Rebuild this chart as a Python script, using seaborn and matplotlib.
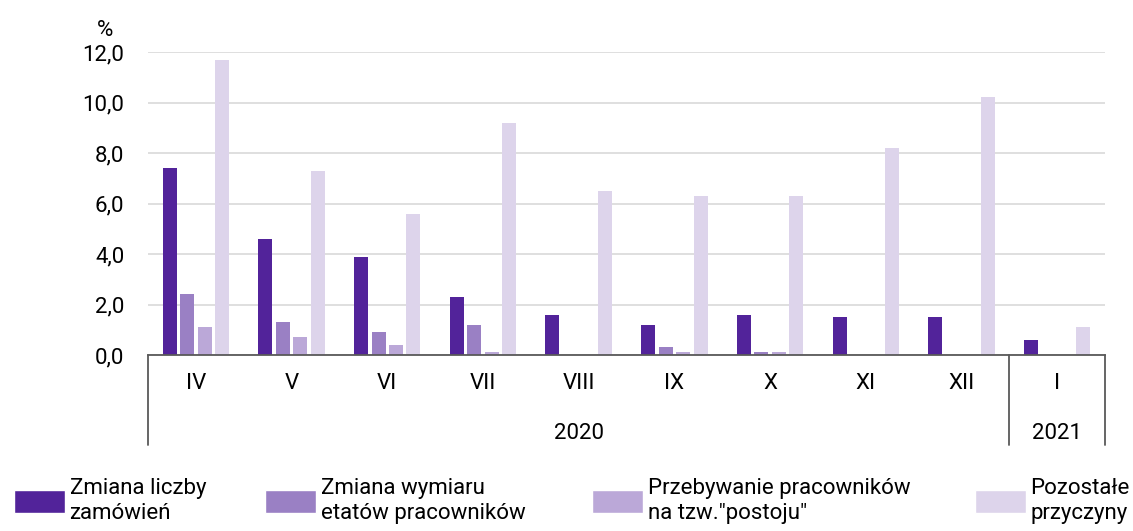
import numpy as np
import pandas as pd
import seaborn as sns
import matplotlib.pyplot as plt
import matplotlib.transforms as mtransforms
from matplotlib.patches import Patch

# Dane (%)
months = ["IV", "V", "VI", "VII", "VIII", "IX", "X", "XI", "XII", "I"]
years = ["2020", "2021"]
series = ["Zmiana liczby\nzamówień", "Zmiana wymiaru\netatów pracowników",
          "Przebywanie pracowników\nna tzw.\"postoju\"", "Pozostałe\nprzyczyny"]
zamowien = [7.4, 4.6, 3.9, 2.3, 1.6, 1.2, 1.6, 1.5, 1.5, 0.6]
wymiar = [2.4, 1.3, 0.9, 1.2, 0.0, 0.3, 0.1, 0.0, 0.0, 0.0]
postoj = [1.1, 0.7, 0.4, 0.1, 0.0, 0.1, 0.1, 0.0, 0.0, 0.0]
pozostale = [11.7, 7.3, 5.6, 9.2, 6.5, 6.3, 6.3, 8.2, 10.2, 1.1]
yticks = [0, 2, 4, 6, 8, 10, 12]
colors = ["#52239a", "#9a80c4", "#bba8d8", "#ddd4eb"]

df = pd.DataFrame({
    "miesiac": months * 4,
    "seria": np.repeat(series, len(months)),
    "wartosc": zamowien + wymiar + postoj + pozostale,
})

sns.set_style("white")
plt.rcParams['font.family'] = ['Roboto', 'DejaVu Sans']
plt.rcParams['text.color'] = 'black'
plt.rcParams['ytick.color'] = 'black'

fs = 16
fig = plt.figure(figsize=(11.33, 5.31), dpi=100)
ax = fig.add_axes([148 / 1133, 1 - 355 / 531, (1105 - 148) / 1133, (355 - 52) / 531])

sns.barplot(data=df, x="miesiac", y="wartosc", hue="seria", order=months,
            hue_order=series, palette=colors, width=0.73, gap=0.2,
            linewidth=0, saturation=1, legend=False, ax=ax)

ax.set_xlim(-0.5, 9.5)
ax.set_ylim(0, 12)
ax.set_yticks(yticks)
ax.set_yticklabels([f"{v:.1f}".replace(".", ",") for v in yticks], fontsize=fs)
ax.tick_params(axis="y", length=0, pad=17)
ax.set_xticks([])
ax.set_xlabel("")
ax.set_ylabel("")
ax.grid(axis="y", color="#d9d9d9", linewidth=1.2)
ax.set_axisbelow(True)
for s in ["top", "right", "left"]:
    ax.spines[s].set_visible(False)
ax.spines["bottom"].set_color("#595959")
ax.spines["bottom"].set_linewidth(1.3)

ax.text(-0.045, 1.035, "%", transform=ax.transAxes, fontsize=fs, ha="center", va="bottom")

# etykiety kategorii (miesiąc / rok)
trans = mtransforms.blended_transform_factory(ax.transData, ax.transAxes)
for i, m in enumerate(months):
    ax.text(i, -0.095, m, transform=trans, ha="center", va="center", fontsize=fs)
ax.text(4, -0.26, years[0], transform=trans, ha="center", va="center", fontsize=fs)
ax.text(9, -0.26, years[1], transform=trans, ha="center", va="center", fontsize=fs)
for xv in [-0.5, 8.5, 9.5]:
    ax.plot([xv, xv], [0, -0.297], transform=trans, color="#595959",
            linewidth=1.3, clip_on=False)

# legenda
leg_x = [14, 265, 592, 975]
for lab, col, x in zip(series, colors, leg_x):
    fig.legend(handles=[Patch(facecolor=col, label=lab)], loc="center left",
               bbox_to_anchor=(x / 1133, 1 - 501 / 531), frameon=False,
               fontsize=16, handlelength=2.3, handleheight=1.25,
               handletextpad=0.2, borderpad=0, borderaxespad=0,
               labelspacing=0.1)

fig.savefig("out.png", dpi=100)
